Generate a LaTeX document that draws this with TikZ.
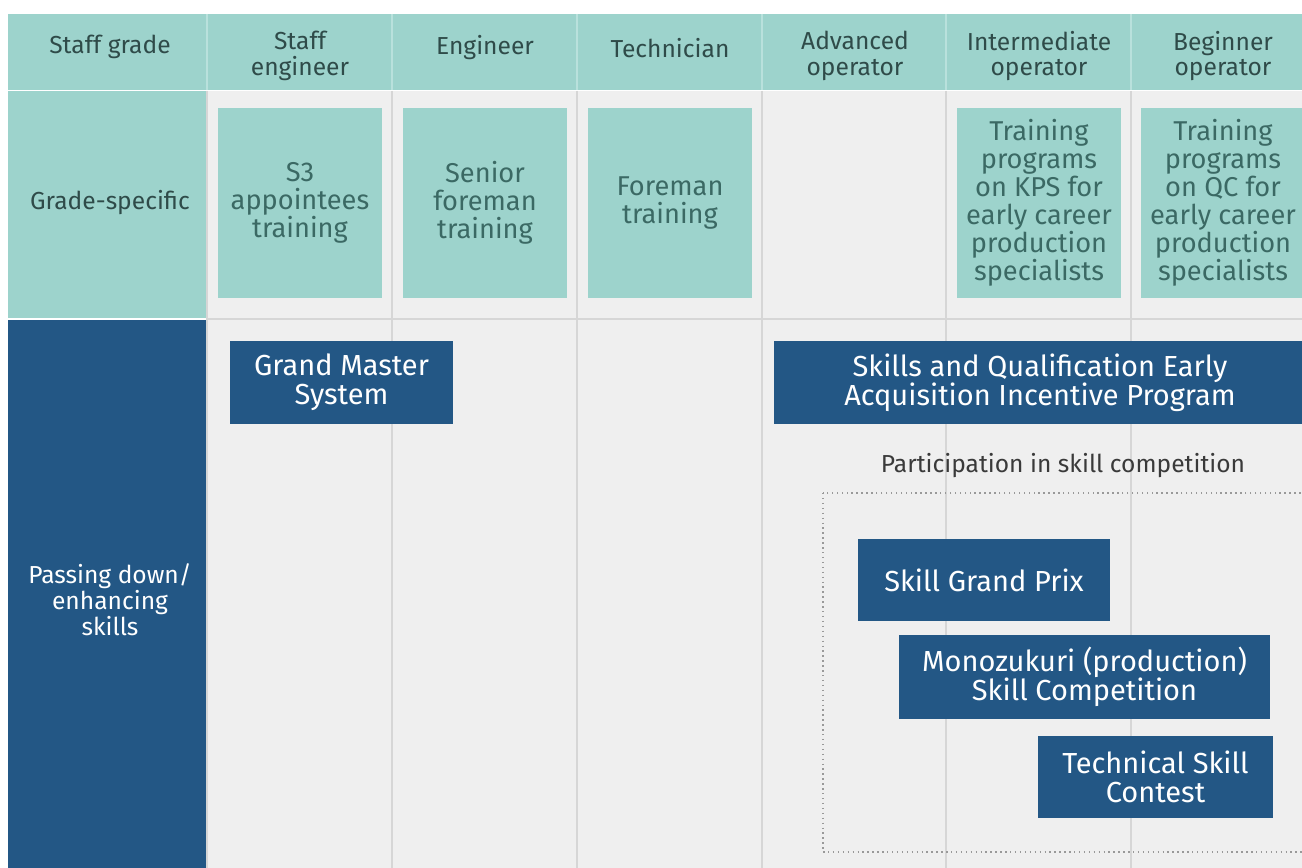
\documentclass[tikz,border=0pt]{standalone}
\usepackage{fontspec}
\setmainfont{Fira Sans}
\usepackage{tikz}
\usetikzlibrary{positioning}
\definecolor{tealcell}{HTML}{9DD3CC}
\definecolor{tealline}{HTML}{B9E1DC}
\definecolor{bluecell}{HTML}{235785}
\definecolor{graycell}{HTML}{EFEFEF}
\definecolor{grayline}{HTML}{D6D6D6}
\definecolor{hdrtext}{HTML}{2F4B49}
\definecolor{boxtext}{HTML}{3B6964}
\definecolor{plaintext}{HTML}{3A3A3A}
\tikzset{
  hdr/.style={align=center, text=hdrtext, inner sep=0pt, font=\fontsize{14}{14.7}\selectfont},
  tbox/.style={fill=tealcell, align=center, text=boxtext, inner sep=0pt, minimum width=3.3cm, minimum height=3.8cm, font=\fontsize{15.5}{16}\selectfont},
  bbox/.style={fill=bluecell, align=center, text=white, inner sep=0pt, minimum height=1.66cm, font=\fontsize{16.5}{16.5}\selectfont},
  lbl/.style={align=center, inner sep=0pt, font=\fontsize{14}{14.7}\selectfont},
}
\begin{document}
\begin{tikzpicture}[x=0.02cm, y=-0.02cm]
\useasboundingbox (0,0) rectangle (1302,868);
\clip (0,0) rectangle (1302,868);
% table background
\fill[tealcell] (8,14) rectangle (1320,90);
\fill[tealcell] (8,91) rectangle (207,318);
\fill[bluecell] (8,320) rectangle (207,868);
\fill[graycell] (207,91) rectangle (1320,868);
\draw[grayline, line width=.6pt] (207,319) -- (1320,319);
\foreach \x in {207,392,577,762,946,1131}{
  \draw[tealline, line width=.6pt] (\x,14) -- (\x,90);
  \draw[grayline, line width=.6pt] (\x,91) -- (\x,868);
}
% header row
\node[hdr] (grade) at (110,47) {Staff grade};
\foreach \x/\y/\t [count=\i] in {300/56/{Staff\\engineer}, 485/48/{Engineer}, 670/48/{Technician}, 855/56/{Advanced\\operator}, 1039/56/{Intermediate\\operator}, 1223/56/{Beginner\\operator}}
  \node[hdr] (col\i) at (\x,\y) {\t};
% grade-specific row
\node[lbl, text=hdrtext] (gs) at (110,203) {Grade-specific};
\foreach \x/\t [count=\i] in {300/{S3\\appointees\\training}, 485/{Senior\\foreman\\training}, 670/{Foreman\\training}, 1039/{Training\\programs\\on KPS for\\early career\\production\\specialists}, 1223/{Training\\programs\\on QC for\\early career\\production\\specialists}}
  \node[tbox] (train\i) at (\x,203) {\t};
% passing down row
\node[lbl, text=white] (pass) at (110,600) {Passing down/\\enhancing\\skills};
\node[bbox, minimum width=4.46cm] (gms) at (341.5,382.5) {Grand Master\\System};
\node[bbox, minimum width=10.64cm] (sqe) at (1040,382.5) {Skills and Qualification Early\\Acquisition Incentive Program};
\node[lbl, text=plaintext] (part) at (1063,466) {Participation in skill competition};
\draw[gray!80, dotted, line width=.8pt] (823,493) rectangle (1330,852);
\node[bbox, minimum width=5.04cm, minimum height=1.64cm] (sgp) at (984,580) {Skill Grand Prix};
\node[bbox, minimum width=7.42cm, minimum height=1.68cm] (mono) at (1084.5,677) {Monozukuri (production)\\Skill Competition};
\node[bbox, minimum width=4.7cm, minimum height=1.64cm] (tsc) at (1155.5,777) {Technical Skill\\Contest};
\end{tikzpicture}
\end{document}
